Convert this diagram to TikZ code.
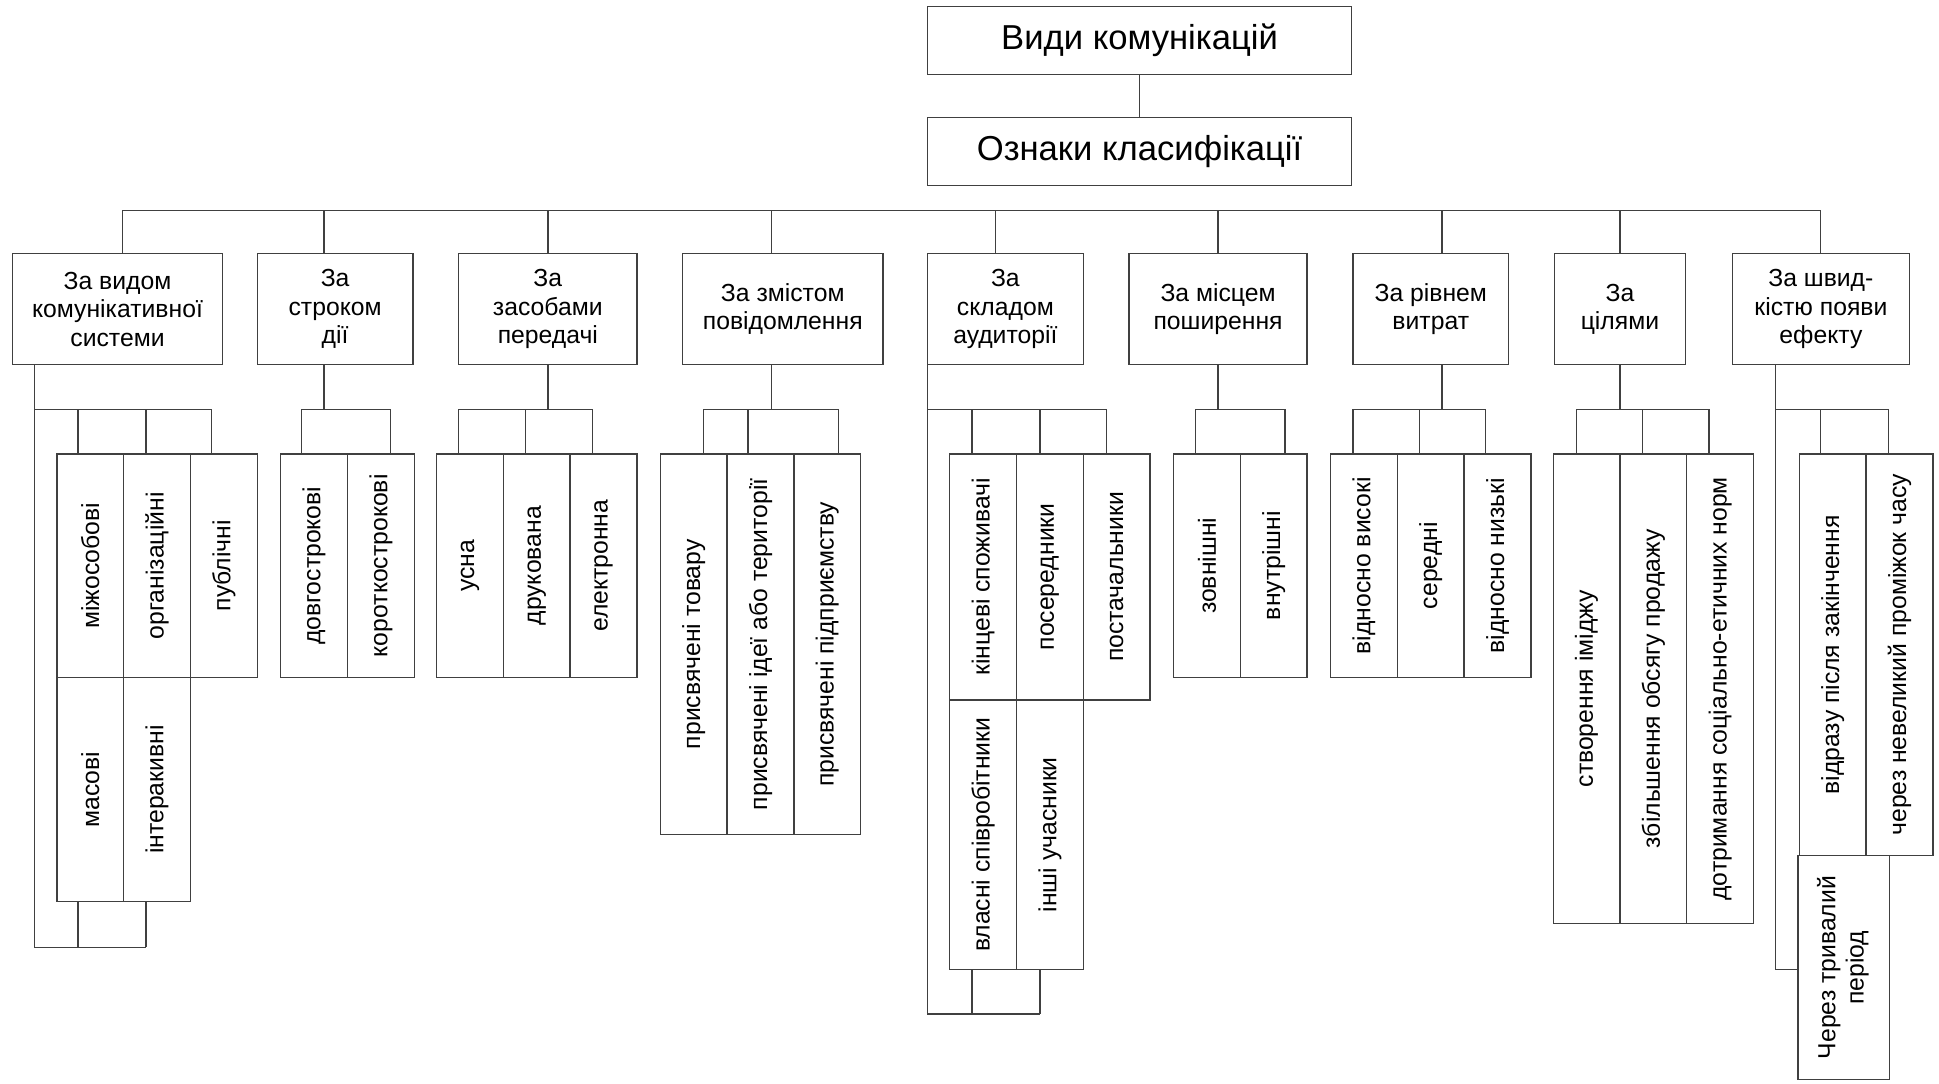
\documentclass[tikz,border=0pt]{standalone}
\usepackage{fontspec}
\usepackage{graphicx}
\setmainfont{Liberation Sans}
\usetikzlibrary{positioning}
\definecolor{lineGray}{RGB}{64,64,64}

\begin{document}
\begin{tikzpicture}[x=1pt, y=-1pt,
    wire/.style={draw=lineGray, line width=1.1pt},
    titlebox/.style={wire, minimum width=343pt, minimum height=55pt, inner sep=0pt, font=\fontsize{28}{32}\selectfont},
    catbox/.style={wire, minimum height=90pt, inner sep=0pt, align=center, font=\fontsize{20}{23}\selectfont},
    leafbox/.style={wire, minimum width=54pt, inner sep=0pt, font=\fontsize{20}{23}\selectfont}]
  \useasboundingbox (0,0) rectangle (1568,876);

  \node[titlebox] (kinds) at (921.5,32.5) {Види комунікацій};
  \node[titlebox] (signs) at (921.5,122.5) {Ознаки класифікації};
  \draw[wire] (kinds) -- (signs);

  % main bus
  \coordinate (busL) at (99,170);
  \coordinate (busR) at (1472,170);
  \draw[wire] (busL) -- (busR);

  % classification signs
  \node[catbox, minimum width=170pt] (c1) at (95,250) {За видом\\комунікативної\\системи};
  \node[catbox, minimum width=126pt] (c2) at (271,250) {За\\строком\\дії};
  \node[catbox, minimum width=144pt] (c3) at (443,250) {За\\засобами\\передачі};
  \node[catbox, minimum width=162pt] (c4) at (633,250) {За змістом\\повідомлення};
  \node[catbox, minimum width=126pt] (c5) at (813,250) {За\\складом\\аудиторії};
  \node[catbox, minimum width=144pt] (c6) at (985,250) {За місцем\\поширення};
  \node[catbox, minimum width=126pt] (c7) at (1157,250) {За рівнем\\витрат};
  \node[catbox, minimum width=106pt] (c8) at (1310,250) {За\\цілями};
  \node[catbox, minimum width=143pt] (c9) at (1472.5,250) {За швид-\\кістю появи\\ефекту};
  \foreach \nm/\jx in {c1/99, c2/262, c3/443, c4/624, c5/805, c6/985, c7/1166, c8/1310, c9/1472} {
    \coordinate (t) at (\jx,170);
    \draw[wire] (t) -- (t |- \nm.north);
  }

  % leaves
  \node[leafbox, minimum height=181pt] (g1a) at (73,457.5) {\rotatebox{90}{міжособові}};
  \node[leafbox, minimum height=181pt] (g1b) at (127,457.5) {\rotatebox{90}{організаційні}};
  \node[leafbox, minimum height=181pt] (g1c) at (181,457.5) {\rotatebox{90}{публічні}};
  \node[leafbox, minimum height=181pt] (g1d) at (73,638.5) {\rotatebox{90}{масові}};
  \node[leafbox, minimum height=181pt] (g1e) at (127,638.5) {\rotatebox{90}{інтеракивні}};
  \node[leafbox, minimum height=181pt] (g2a) at (254,457.5) {\rotatebox{90}{довгострокові}};
  \node[leafbox, minimum height=181pt] (g2b) at (308,457.5) {\rotatebox{90}{короткострокові}};
  \node[leafbox, minimum height=181pt] (g3a) at (380,457.5) {\rotatebox{90}{усна}};
  \node[leafbox, minimum height=181pt] (g3b) at (434,457.5) {\rotatebox{90}{друкована}};
  \node[leafbox, minimum height=181pt] (g3c) at (488,457.5) {\rotatebox{90}{електронна}};
  \node[leafbox, minimum height=308pt] (g4a) at (561,521) {\rotatebox{90}{присвячені товару}};
  \node[leafbox, minimum height=308pt] (g4b) at (615,521) {\rotatebox{90}{присвячені ідеї або території}};
  \node[leafbox, minimum height=308pt] (g4c) at (669,521) {\rotatebox{90}{присвячені підприємству}};
  \node[leafbox, minimum height=199pt] (g5a) at (795,466.5) {\rotatebox{90}{кінцеві споживачі}};
  \node[leafbox, minimum height=199pt] (g5b) at (849,466.5) {\rotatebox{90}{посередники}};
  \node[leafbox, minimum height=199pt] (g5c) at (903,466.5) {\rotatebox{90}{постачальники}};
  \node[leafbox, minimum height=218pt] (g5d) at (795,675) {\rotatebox{90}{власні співробітники}};
  \node[leafbox, minimum height=218pt] (g5e) at (849,675) {\rotatebox{90}{інші учасники}};
  \node[leafbox, minimum height=181pt] (g6a) at (976,457.5) {\rotatebox{90}{зовнішні}};
  \node[leafbox, minimum height=181pt] (g6b) at (1030,457.5) {\rotatebox{90}{внутрішні}};
  \node[leafbox, minimum height=181pt] (g7a) at (1103,457.5) {\rotatebox{90}{відносно високі}};
  \node[leafbox, minimum height=181pt] (g7b) at (1157,457.5) {\rotatebox{90}{середні}};
  \node[leafbox, minimum height=181pt] (g7c) at (1211,457.5) {\rotatebox{90}{відносно низькі}};
  \node[leafbox, minimum height=380pt] (g8a) at (1283,557) {\rotatebox{90}{створення іміджу}};
  \node[leafbox, minimum height=380pt] (g8b) at (1337,557) {\rotatebox{90}{збільшення обсягу продажу}};
  \node[leafbox, minimum height=380pt] (g8c) at (1391,557) {\rotatebox{90}{дотримання соціально-етичних норм}};
  \node[leafbox, minimum height=325pt] (g9a) at (1482,529.5) {\rotatebox{90}{відразу після закінчення}};
  \node[leafbox, minimum height=325pt] (g9b) at (1536,529.5) {\rotatebox{90}{через невеликий проміжок часу}};
  \node[leafbox, minimum width=74pt, minimum height=181pt] (g9c) at (1491,782.5)
    {\rotatebox{90}{\begin{tabular}{@{}c@{}}Через тривалий\\період\end{tabular}}};

  % simple groups
  \foreach \cat/\jx/\bl/\br/\drops in {c2/262/244/316/{244/g2a,316/g2b},
    c3/443/371/479/{371/g3a,425/g3b,479/g3c},
    c4/624/569/678/{569/g4a,605/g4b,678/g4c},
    c6/985/967/1039/{967/g6a,1039/g6b},
    c7/1166/1094/1201/{1094/g7a,1148/g7b,1201/g7c},
    c8/1310/1275/1382/{1275/g8a,1328/g8b,1382/g8c}} {
    \coordinate (j) at (\jx,331);
    \coordinate (l) at (\bl,331);
    \coordinate (r) at (\br,331);
    \draw[wire] (j |- \cat.south) -- (j);
    \draw[wire] (l) -- (r);
    \foreach \dx/\leaf in \drops {
      \coordinate (d) at (\dx,331);
      \draw[wire] (d) -- (d |- \leaf.north);
    }
  }

  % za vydom: two rows
  \coordinate (j1) at (28,331);
  \coordinate (e1) at (171,331);
  \coordinate (f1) at (28,766);
  \coordinate (h1) at (118,766);
  \draw[wire] (j1 |- c1.south) -- (f1) -- (h1);
  \draw[wire] (j1) -- (e1);
  \foreach \dx/\leaf in {63/g1a,118/g1b,171/g1c} {
    \coordinate (d) at (\dx,331);
    \draw[wire] (d) -- (d |- \leaf.north);
  }
  \foreach \dx/\leaf in {63/g1d,118/g1e} {
    \coordinate (d) at (\dx,766);
    \draw[wire] (d) -- (d |- \leaf.south);
  }

  % za skladom: two rows
  \coordinate (j5) at (750,331);
  \coordinate (e5) at (895,331);
  \coordinate (f5) at (750,820);
  \coordinate (h5) at (841,820);
  \draw[wire] (j5 |- c5.south) -- (f5) -- (h5);
  \draw[wire] (j5) -- (e5);
  \foreach \dx/\leaf in {786/g5a,841/g5b,895/g5c} {
    \coordinate (d) at (\dx,331);
    \draw[wire] (d) -- (d |- \leaf.north);
  }
  \foreach \dx/\leaf in {786/g5d,841/g5e} {
    \coordinate (d) at (\dx,820);
    \draw[wire] (d) -- (d |- \leaf.south);
  }

  % za shvydkistiu
  \coordinate (j9) at (1436,331);
  \coordinate (e9) at (1527,331);
  \coordinate (f9) at (1436,784);
  \draw[wire] (j9 |- c9.south) -- (f9) -- (f9 -| g9c.west);
  \draw[wire] (j9) -- (e9);
  \foreach \dx/\leaf in {1472/g9a,1527/g9b} {
    \coordinate (d) at (\dx,331);
    \draw[wire] (d) -- (d |- \leaf.north);
  }
\end{tikzpicture}
\end{document}
